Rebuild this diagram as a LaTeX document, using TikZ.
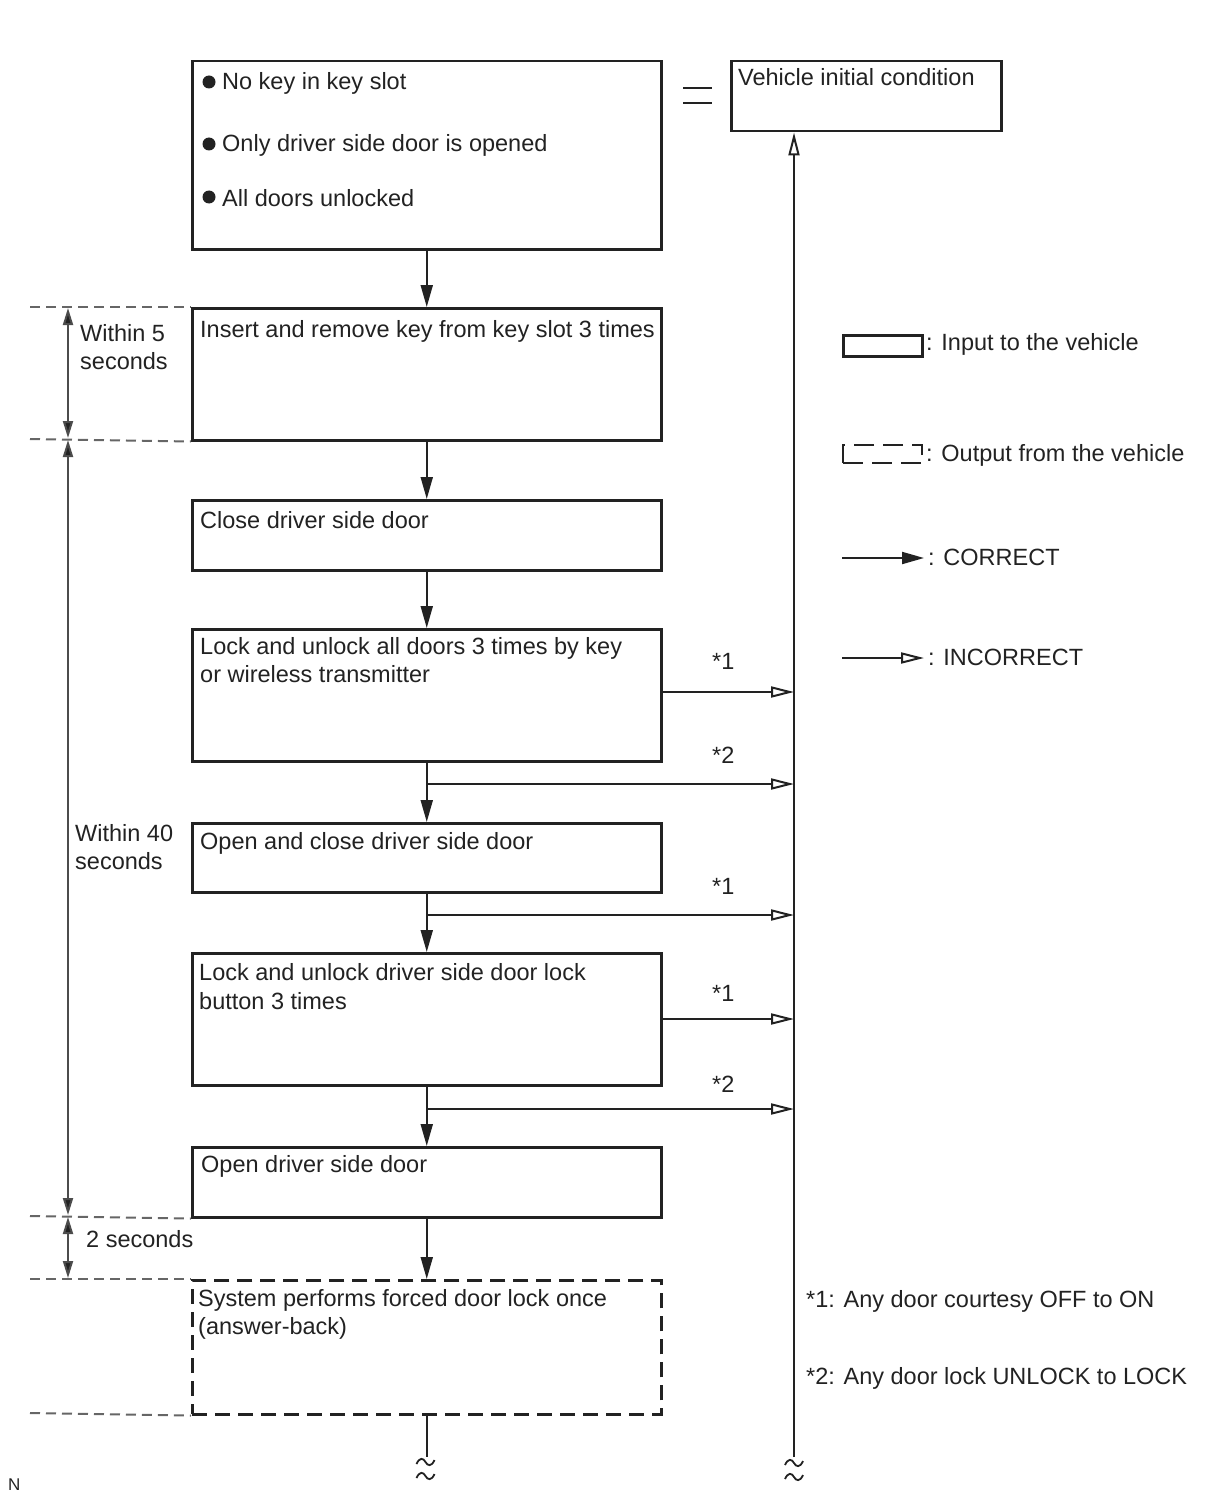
\documentclass[tikz,border=0pt]{standalone}
\usepackage{fontspec}
\setmainfont{Liberation Sans}
\usetikzlibrary{arrows.meta}
\definecolor{ink}{HTML}{222222}
\begin{document}
\begin{tikzpicture}[x=1pt,y=-1pt,
  box/.style={draw=ink, line width=2.5pt, inner sep=0pt, anchor=north west},
  dbox/.style={draw=ink, line width=2.5pt, inner sep=0pt, anchor=north west, dash pattern=on 15pt off 8pt},
  txt/.style={anchor=base west, inner sep=0pt, font=\fontsize{23.5}{28}\selectfont, text=ink},
  small/.style={anchor=base west, inner sep=0pt, font=\fontsize{17}{19}\selectfont, text=ink},
  flow/.style={line width=2pt, draw=ink, -{Triangle[length=22pt,width=12pt]}},
  inc/.style={line width=2pt, draw=ink, -{Triangle[open,length=23pt,width=11pt,line width=2pt]}},
  tdash/.style={line width=2pt, draw=black!60, dash pattern=on 10pt off 6pt},
  dimarrow/.style={line width=2pt, draw=black!70, {Triangle[length=17pt,width=10pt,fill=ink]}-{Triangle[length=17pt,width=10pt,fill=ink]}},
  bul/.style={circle, fill=ink, inner sep=0pt, minimum size=13pt},
  tilde/.style={line width=1.8pt, draw=ink}
]
\useasboundingbox (0,0) rectangle (1210,1498);

% boxes
\node[box, minimum width=469pt, minimum height=188pt] (b1) at (191,60) {};
\node[box, minimum width=270pt, minimum height=70pt] (vic) at (730,60) {};
\node[box, minimum width=469pt, minimum height=132pt] (b2) at (191,307) {};
\node[box, minimum width=469pt, minimum height=70pt] (b3) at (191,499) {};
\node[box, minimum width=469pt, minimum height=132pt] (b4) at (191,628) {};
\node[box, minimum width=469pt, minimum height=69pt] (b5) at (191,822) {};
\node[box, minimum width=469pt, minimum height=132pt] (b6) at (191,952) {};
\node[box, minimum width=469pt, minimum height=70pt] (b7) at (191,1146) {};
\node[dbox, minimum width=469pt, minimum height=134pt] (b8) at (191,1279) {};

% texts
\node[bul] (u1) at (209,82) {};
\node[bul] (u2) at (209,144) {};
\node[bul] (u3) at (209,197) {};
\node[txt] (t1a) at (222,90) {No key in key slot};
\node[txt] (t1b) at (222,152) {Only driver side door is opened};
\node[txt] (t1c) at (222,206) {All doors unlocked};
\node[txt] (tv) at (738,86) {Vehicle initial condition};
\node[txt] (t2) at (200,337) {Insert and remove key from key slot 3 times};
\node[txt] (t3) at (200,528) {Close driver side door};
\node[txt] (t4a) at (200,654) {Lock and unlock all doors 3 times by key};
\node[txt] (t4b) at (200,682) {or wireless transmitter};
\node[txt] (t5) at (200,849) {Open and close driver side door};
\node[txt] (t6a) at (199,980) {Lock and unlock driver side door lock};
\node[txt] (t6b) at (199,1009) {button 3 times};
\node[txt] (t7) at (201,1172) {Open driver side door};
\node[txt] (t8a) at (198,1306) {System performs forced door lock once};
\node[txt] (t8b) at (198,1334) {(answer-back)};

% equals sign
\draw[line width=2pt, draw=ink] (683,88) -- (712,88) (683,103) -- (712,103);

% vertical flow
\draw[flow] (b1.south) -- (b2.north);
\draw[flow] (b2.south) -- (b3.north);
\draw[flow] (b3.south) -- (b4.north);
\draw[flow] (b4.south) -- (b5.north);
\draw[flow] (b5.south) -- (b6.north);
\draw[flow] (b6.south) -- (b7.north);
\draw[flow] (b7.south) -- (b8.north);
\coordinate (lbot) at (426,1457);
\draw[line width=2pt, draw=ink] (b8.south) -- (b8.south |- lbot);

% right return line
\coordinate (rbot) at (794,1457);
\draw[inc] (rbot) -- (rbot |- vic.south);

% incorrect arrows
\coordinate (r1) at (794,692);
\coordinate (r2) at (794,784);
\coordinate (r3) at (794,915);
\coordinate (r4) at (794,1019);
\coordinate (r5) at (794,1109);
\draw[inc] (b4.east |- r1) -- (r1);
\draw[inc] (b4.south |- r2) -- (r2);
\draw[inc] (b5.south |- r3) -- (r3);
\draw[inc] (b6.east |- r4) -- (r4);
\draw[inc] (b6.south |- r5) -- (r5);
\node[txt] (s1) at (712,669) {*1};
\node[txt] (s2) at (712,763) {*2};
\node[txt] (s3) at (712,894) {*1};
\node[txt] (s4) at (712,1001) {*1};
\node[txt] (s5) at (712,1092) {*2};

% tildes
\foreach \cx/\cy [count=\i] in {425.5/1462, 425.5/1476, 794/1463, 794/1477}{
  \draw[tilde] (\cx-9,\cy+2) .. controls (\cx-6,\cy-5) and (\cx-2,\cy-4) .. (\cx,\cy)
     .. controls (\cx+2,\cy+4) and (\cx+6,\cy+5) .. (\cx+9,\cy-2);
}

% time dimension lines
\coordinate (d1) at (30,307);
\coordinate (d2) at (30,439);
\coordinate (d3) at (30,1216);
\coordinate (d4) at (30,1279);
\coordinate (d5) at (30,1413);
\draw[tdash] (d1) -- (b2.north west);
\draw[tdash] (d2) -- (b2.south west);
\draw[tdash] (d3) -- (b7.south west);
\draw[tdash] (d4) -- (b8.north west);
\draw[tdash] (d5) -- (b8.south west);
\coordinate (a1) at (68,308);
\coordinate (a2) at (68,438);
\coordinate (a3) at (68,440);
\coordinate (a4) at (68,1215);
\coordinate (a5) at (68,1217);
\coordinate (a6) at (68,1278);
\draw[dimarrow] (a1) -- (a2);
\draw[dimarrow] (a3) -- (a4);
\draw[dimarrow] (a5) -- (a6);
\node[txt] (w5a) at (80,341) {Within 5};
\node[txt] (w5b) at (80,369) {seconds};
\node[txt] (w40a) at (75,841) {Within 40};
\node[txt] (w40b) at (75,869) {seconds};
\node[txt] (w2) at (86,1247) {2 seconds};

% legend
\node[box, minimum width=79pt, minimum height=21pt] (lg1) at (842,334) {};
\node[txt] (lt1) at (926,350) {: Input to the vehicle};
\node[dbox, minimum width=79pt, minimum height=18pt, dash pattern=on 20pt off 9pt, line width=2.2pt] (lg2) at (842,444) {};
\node[txt] (lt2) at (926,461) {: Output from the vehicle};
\coordinate (lc1) at (842,558);
\coordinate (lc2) at (924,558);
\draw[flow] (lc1) -- (lc2);
\node[txt] (lt3) at (928,565) {: CORRECT};
\coordinate (li1) at (842,658);
\coordinate (li2) at (924,658);
\draw[inc] (li1) -- (li2);
\node[txt] (lt4) at (928,665) {: INCORRECT};

% footnotes
\node[txt] (f1) at (806,1307) {*1: Any door courtesy OFF to ON};
\node[txt] (f2) at (806,1384) {*2: Any door lock UNLOCK to LOCK};

\node[small] (nn) at (8,1490) {N};
\end{tikzpicture}
\end{document}
